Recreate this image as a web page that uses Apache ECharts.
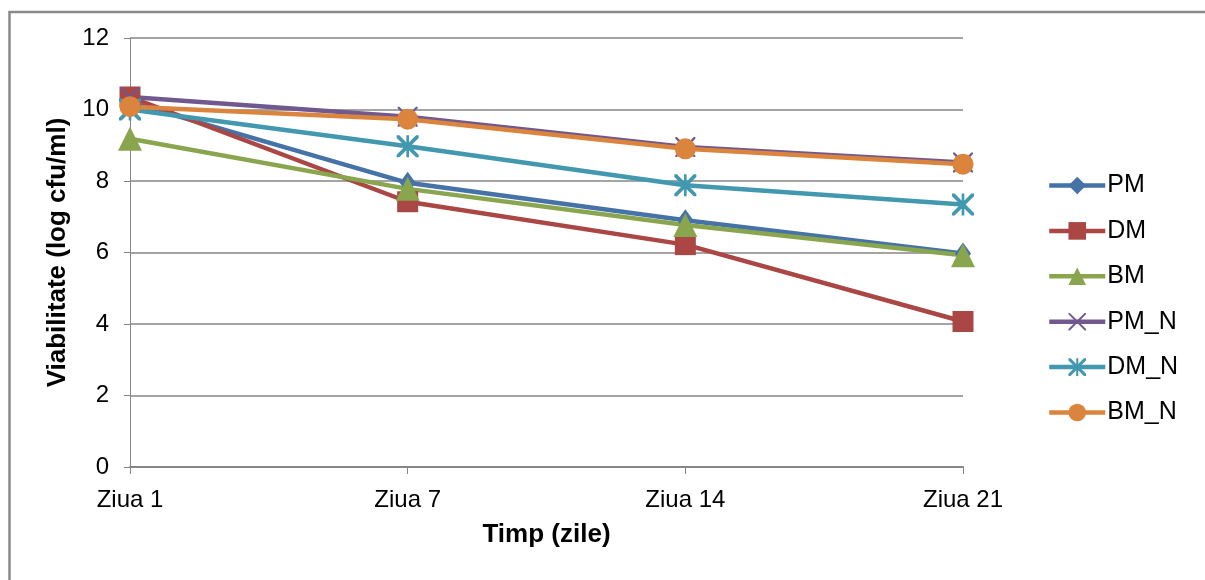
<!DOCTYPE html>
<html>
<head>
<meta charset="utf-8">
<script src="https://cdn.jsdelivr.net/npm/echarts@6/dist/echarts.min.js"></script>
<style>
  html, body { margin: 0; padding: 0; background: #fff; }
  #chart { width: 1205px; height: 580px; }
</style>
</head>
<body>
<div id="chart"></div>
<script>
// Viability over storage time (log cfu/ml)
const days = ['Ziua 1', 'Ziua 7', 'Ziua 14', 'Ziua 21'];

const pm   = [10.2, 7.95, 6.9, 5.97];
const dm   = [10.35, 7.42, 6.22, 4.07];
const bm   = [9.18, 7.78, 6.77, 5.92];
const pmN  = [10.35, 9.8, 8.95, 8.52];
const dmN  = [10.0, 8.97, 7.88, 7.34];
const bmN  = [10.08, 9.73, 8.9, 8.47];

const yTicks = { min: 0, max: 12, step: 2 };

const font = '"Liberation Sans", Arial, sans-serif';
const axisGray = '#868686';

// thin X and asterisk markers (filled outlines)
const xPath = 'path://M0,0 L1.6,0 L10,8.4 L18.4,0 L20,0 L20,1.6 L11.6,10 L20,18.4 L20,20 L18.4,20 L10,11.6 L1.6,20 L0,20 L0,18.4 L8.4,10 L0,1.6 Z';
const starPath = 'path://M0,0 L2.4,0 L10,7.6 L17.6,0 L20,0 L20,2.4 L12.4,10 L20,17.6 L20,20 L17.6,20 L10,12.4 L2.4,20 L0,20 L0,17.6 L7.6,10 L0,2.4 Z M8.8,0 L11.2,0 L11.2,20 L8.8,20 Z';

function makeSeries(name, data, color, symbol, size) {
    return {
        name: name,
        type: 'line',
        data: data,
        symbol: symbol,
        symbolSize: size,
        showAllSymbol: true,
        lineStyle: { color: color, width: 4.5 },
        itemStyle: { color: color },
        emphasis: { disabled: true },
        z: 3
    };
}

const chart = echarts.init(document.getElementById('chart'), null, { renderer: 'canvas' });

const option = {
    backgroundColor: '#ffffff',
    animation: false,
    textStyle: { fontFamily: font },
    graphic: [{
        type: 'rect',
        left: 7,
        top: 9.5,
        shape: { width: 1300, height: 700 },
        style: { fill: 'none', stroke: '#8a8a8a', lineWidth: 2.5 },
        silent: true
    }],
    grid: { left: 130, right: 242, top: 38, bottom: 113, containLabel: false },
    legend: {
        orient: 'vertical',
        left: 1047,
        top: 173,
        padding: 0,
        itemWidth: 56,
        itemHeight: 22,
        itemGap: 20.4,
        lineStyle: { width: 4.5 },
        textStyle: { fontFamily: font, fontSize: 25, color: '#000', lineHeight: 24, padding: [0, 0, 0, -3] },
        data: ['PM', 'DM', 'BM', 'PM_N', 'DM_N', 'BM_N']
    },
    xAxis: {
        type: 'category',
        data: days,
        boundaryGap: false,
        name: 'Timp (zile)',
        nameLocation: 'middle',
        nameGap: 55,
        nameTextStyle: { fontFamily: font, fontSize: 26, fontWeight: 'bold', color: '#000' },
        axisLine: { lineStyle: { color: axisGray, width: 2 } },
        axisTick: { alignWithLabel: true, length: 7, lineStyle: { color: axisGray, width: 1 } },
        axisLabel: { fontFamily: font, fontSize: 24, color: '#000', margin: 21 },
        splitLine: { show: false }
    },
    yAxis: {
        type: 'value',
        min: yTicks.min,
        max: yTicks.max,
        interval: yTicks.step,
        name: 'Viabilitate (log cfu/ml)',
        nameLocation: 'middle',
        nameGap: 59,
        nameRotate: 90,
        nameTextStyle: { fontFamily: font, fontSize: 26, fontWeight: 'bold', color: '#000' },
        axisLine: { show: true, lineStyle: { color: axisGray, width: 1 } },
        axisTick: { show: true, length: 6, lineStyle: { color: axisGray, width: 1 } },
        axisLabel: { fontFamily: font, fontSize: 24, color: '#000', margin: 21 },
        splitLine: { lineStyle: { color: axisGray, width: 1.5 } }
    },
    series: [
        makeSeries('PM', pm, '#4572A7', 'diamond', [16, 22]),
        makeSeries('DM', dm, '#AA4643', 'rect', 21),
        makeSeries('BM', bm, '#89A54E', 'triangle', 24),
        makeSeries('PM_N', pmN, '#71588F', xPath, 20),
        makeSeries('DM_N', dmN, '#4198AF', starPath, 22),
        makeSeries('BM_N', bmN, '#DB843D', 'circle', 21)
    ]
};

chart.setOption(option);
</script>
</body>
</html>
